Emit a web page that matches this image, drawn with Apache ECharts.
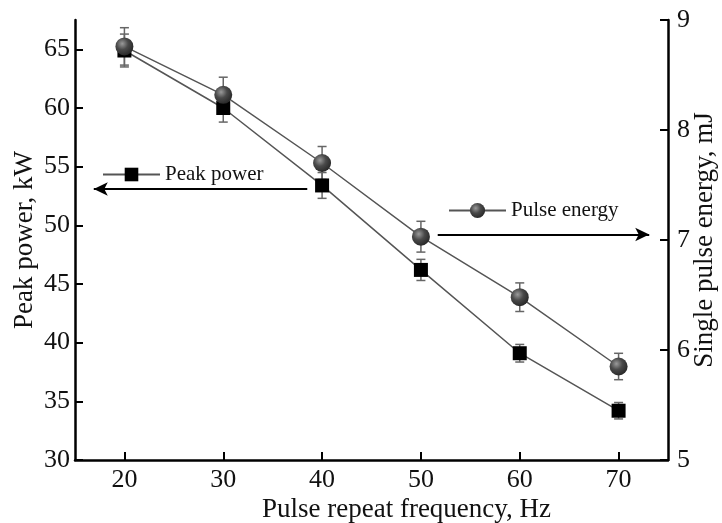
<!DOCTYPE html>
<html>
<head>
<meta charset="utf-8">
<script src="https://cdn.jsdelivr.net/npm/echarts@6/dist/echarts.min.js"></script>
<style>
  html, body { margin: 0; padding: 0; background: #fff; }
  #chart { width: 722px; height: 523px; }
</style>
</head>
<body>
<div id="chart"></div>
<script>
const freq = [20, 30, 40, 50, 60, 70];
const peakPower = [64.9, 60.0, 53.4, 46.2, 39.1, 34.2];
const peakPowerErr = [1.4, 1.2, 1.1, 0.9, 0.75, 0.7];
const pulseEnergy = [8.76, 8.32, 7.70, 7.03, 6.48, 5.85];
const pulseEnergyErr = [0.17, 0.16, 0.15, 0.14, 0.13, 0.12];

const xTicks = [20, 30, 40, 50, 60, 70];
const powerTicks = [30, 35, 40, 45, 50, 55, 60, 65];
const energyTicks = [5, 6, 7, 8, 9];

// annotation arrows, in data units
const powerArrow = [[38.5, 53.1], [16.9, 53.1]];
const energyArrow = [[51.7, 7.05], [73.1, 7.05]];

const FONT = '"Liberation Serif", "DejaVu Serif", serif';

const chart = echarts.init(document.getElementById('chart'), null, { renderer: 'canvas' });

const errorItem = (params, api) => {
  const x = api.value(0);
  const lo = api.coord([x, api.value(1)]);
  const hi = api.coord([x, api.value(2)]);
  const cap = 4.5;
  const style = { stroke: '#666', lineWidth: 1.5 };
  return {
    type: 'group',
    children: [
      { type: 'line', shape: { x1: lo[0], y1: lo[1], x2: hi[0], y2: hi[1] }, style },
      { type: 'line', shape: { x1: lo[0] - cap, y1: lo[1], x2: lo[0] + cap, y2: lo[1] }, style },
      { type: 'line', shape: { x1: hi[0] - cap, y1: hi[1], x2: hi[0] + cap, y2: hi[1] }, style },
    ],
  };
};

const axisCommon = {
  axisLine: { show: true, lineStyle: { color: '#000', width: 2.5 } },
  axisTick: { show: true, inside: true, length: 8, lineStyle: { color: '#000', width: 2 } },
  axisLabel: { color: '#111', fontFamily: FONT, fontSize: 26 },
  splitLine: { show: false },
  nameLocation: 'middle',
  nameMoveOverlap: false,
  nameTextStyle: { color: '#111', fontFamily: FONT, fontSize: 27 },
};

const sphere = {
  type: 'radial', x: 0.38, y: 0.35, r: 0.65,
  colorStops: [
    { offset: 0, color: '#9a9a9a' },
    { offset: 0.5, color: '#4a4a4a' },
    { offset: 1, color: '#2a2a2a' },
  ],
};

const option = {
  animation: false,
  backgroundColor: '#fff',
  grid: { left: 75, right: 54, top: 20, bottom: 63, outerBoundsMode: 'none', containLabel: false },
  legend: [
    {
      data: ['Peak power'], left: 97, top: 159, itemWidth: 57, itemHeight: 17, itemGap: 6,
      textStyle: { fontFamily: FONT, fontSize: 21, color: '#111' },
    },
    {
      data: ['Pulse energy'], left: 443, top: 195, itemWidth: 57, itemHeight: 19, itemGap: 6,
      textStyle: { fontFamily: FONT, fontSize: 21, color: '#111' },
    },
  ],
  xAxis: {
    ...axisCommon,
    type: 'value', min: 15, max: 75,
    name: 'Pulse repeat frequency, Hz', nameGap: 36,
    nameTextStyle: { ...axisCommon.nameTextStyle, padding: [0, 0, 0, 70] },
    axisTick: { ...axisCommon.axisTick, customValues: xTicks },
    axisLabel: { ...axisCommon.axisLabel, margin: 7, customValues: xTicks },
  },
  yAxis: [
    {
      ...axisCommon,
      type: 'value', min: 30, max: 67.5, position: 'left',
      name: 'Peak power, kW', nameGap: 37,
      axisTick: { ...axisCommon.axisTick, customValues: powerTicks },
      axisLabel: { ...axisCommon.axisLabel, margin: 5, customValues: powerTicks },
    },
    {
      ...axisCommon,
      type: 'value', min: 5, max: 9, interval: 1, position: 'right',
      name: 'Single pulse energy, mJ', nameGap: 23,
      axisTick: { ...axisCommon.axisTick, customValues: energyTicks },
      axisLabel: { ...axisCommon.axisLabel, margin: 9, customValues: energyTicks },
    },
  ],
  series: [
    {
      type: 'custom', yAxisIndex: 0, z: 1,
      renderItem: errorItem,
      encode: { x: 0, y: [1, 2] },
      data: freq.map((f, i) => [f, peakPower[i] - peakPowerErr[i], peakPower[i] + peakPowerErr[i]]),
    },
    {
      type: 'custom', yAxisIndex: 1, z: 1,
      renderItem: errorItem,
      encode: { x: 0, y: [1, 2] },
      data: freq.map((f, i) => [f, pulseEnergy[i] - pulseEnergyErr[i], pulseEnergy[i] + pulseEnergyErr[i]]),
    },
    {
      name: 'Peak power', type: 'line', yAxisIndex: 0, z: 3,
      symbol: 'rect', symbolSize: 14,
      itemStyle: { color: '#000' },
      lineStyle: { color: '#555', width: 1.5 },
      data: freq.map((f, i) => [f, peakPower[i]]),
      markLine: {
        silent: true, symbol: ['none', 'arrow'], symbolSize: [10, 14],
        label: { show: false },
        lineStyle: { color: '#000', width: 2, type: 'solid' },
        data: [[{ coord: powerArrow[0] }, { coord: powerArrow[1] }]],
      },
    },
    {
      name: 'Pulse energy', type: 'line', yAxisIndex: 1, z: 4,
      symbol: 'circle', symbolSize: 18,
      itemStyle: { color: sphere },
      lineStyle: { color: '#555', width: 1.5 },
      data: freq.map((f, i) => [f, pulseEnergy[i]]),
      markLine: {
        silent: true, symbol: ['none', 'arrow'], symbolSize: [10, 14],
        label: { show: false },
        lineStyle: { color: '#000', width: 2, type: 'solid' },
        data: [[{ coord: energyArrow[0] }, { coord: energyArrow[1] }]],
      },
    },
  ],
};

chart.setOption(option);
</script>
</body>
</html>
